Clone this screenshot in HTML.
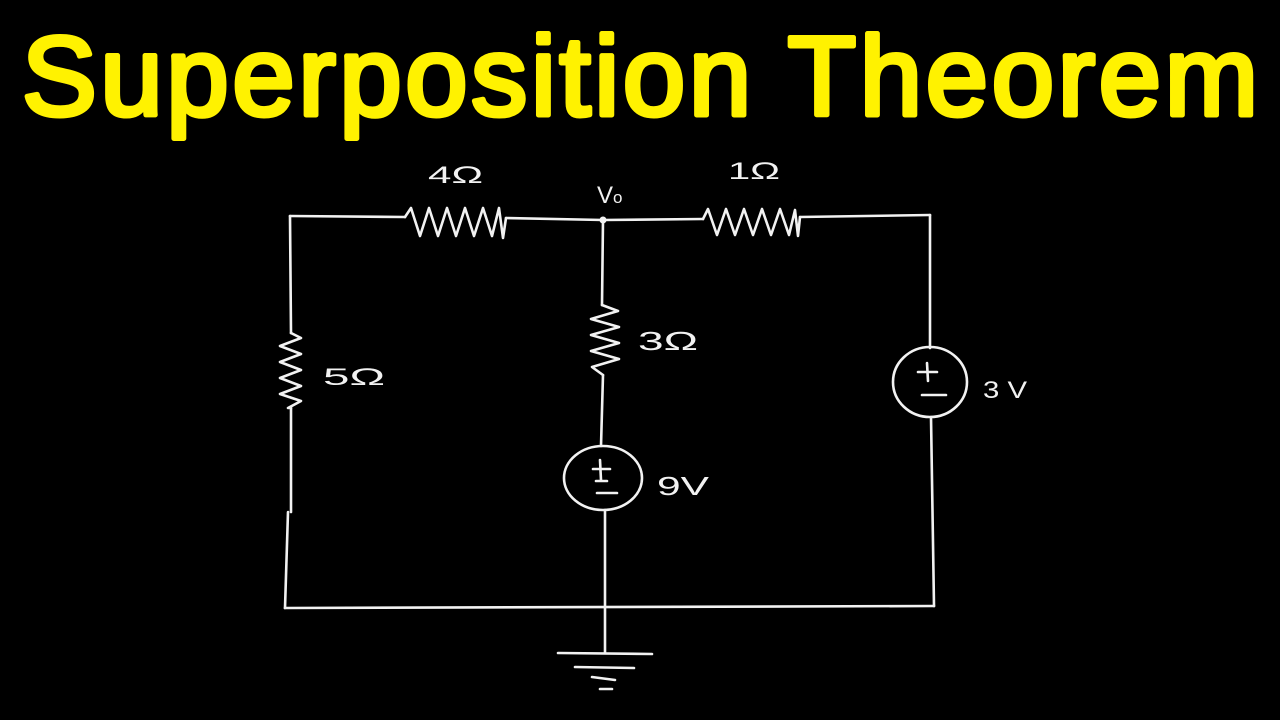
<!DOCTYPE html>
<html>
<head>
<meta charset="utf-8">
<style>
html,body{margin:0;padding:0;background:#000;}
svg{display:block;}
</style>
</head>
<body>
<svg width="1280" height="720" viewBox="0 0 1280 720" xmlns="http://www.w3.org/2000/svg">
<rect width="1280" height="720" fill="#000"/>
<text x="22" y="115" font-family="Liberation Sans, DejaVu Sans, sans-serif" font-size="112" fill="#fff200" stroke="#fff200" stroke-width="5" stroke-linejoin="round" stroke-linecap="round" textLength="1236" lengthAdjust="spacing">Superposition Theorem</text>

<g fill="none" stroke="#f2f2f2" stroke-width="2.6" stroke-linejoin="round" stroke-linecap="round">
  <!-- top wire -->
  <polyline points="290,216 405,217"/>
  <polyline points="405,217 411,208 420,236 429,208 438,236 447,208 456,236 465,208 474,236 483,208 492,236 499,208 503,238 506,218"/>
  <polyline points="506,218 603,220 703,219"/>
  <polyline points="703,219 708,209 717,235 726,209 735,235 744,209 753,235 762,209 771,235 780,209 789,235 795,210 798,236 800,217"/>
  <polyline points="800,217 930,215"/>
  <!-- left branch -->
  <polyline points="290,216 291,333"/>
  <polyline points="291,333 301,338 280,346 301,354 280,362 301,370 280,378 301,386 280,394 301,401 288,408 291,408"/>
  <polyline points="291,408 291,512"/>
  <polyline points="288,512 285,608"/>
  <!-- bottom wire -->
  <polyline points="285,608 934,606"/>
  <!-- right branch -->
  <polyline points="930,215 930,348"/>
  <ellipse cx="930" cy="382" rx="37" ry="35"/>
  <polyline points="931,417 934,606"/>
  <polyline points="918,372 937,372"/>
  <polyline points="927,363 928,381"/>
  <polyline points="922,395 946,395"/>
  <!-- middle branch -->
  <polyline points="603,220 602,305"/>
  <polyline points="602,305 618,311 591,319 619,327 591,335 619,343 591,351 619,359 592,367 603,375"/>
  <polyline points="603,375 601,446"/>
  <ellipse cx="603" cy="478" rx="39" ry="32"/>
  <polyline points="605,510 605,653"/>
  <polyline points="593,469 610,469"/>
  <polyline points="600,460 601,480"/>
  <polyline points="596,481 607,481"/>
  <polyline points="597,493 617,493"/>
  <!-- ground -->
  <polyline points="558,653 652,654"/>
  <polyline points="575,667 634,668"/>
  <polyline points="592,677 615,680"/>
  <polyline points="600,689 612,689"/>
</g>
<circle cx="603" cy="220" r="3.5" fill="#f2f2f2"/>

<g font-family="Liberation Sans, DejaVu Sans, sans-serif" fill="#f2f2f2" font-size="24">
  <text x="428" y="183" textLength="55" lengthAdjust="spacingAndGlyphs">4Ω</text>
  <text x="728" y="179" textLength="52" lengthAdjust="spacingAndGlyphs">1Ω</text>
  <text x="597" y="203">V<tspan font-size="17">o</tspan></text>
  <text x="638" y="350" font-size="26" textLength="60" lengthAdjust="spacingAndGlyphs">3Ω</text>
  <text x="323" y="385" textLength="62" lengthAdjust="spacingAndGlyphs">5Ω</text>
  <text x="983" y="398" textLength="44" lengthAdjust="spacingAndGlyphs">3 V</text>
  <text x="657" y="495" font-size="26" textLength="52" lengthAdjust="spacingAndGlyphs">9V</text>
</g>
</svg>
</body>
</html>
